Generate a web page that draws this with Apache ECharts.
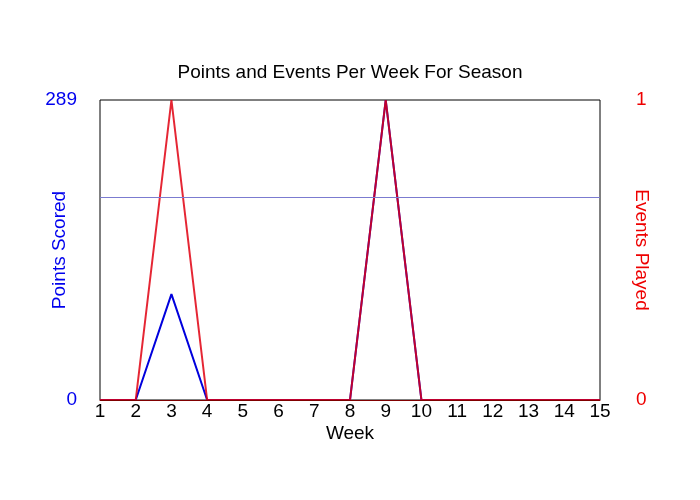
<!DOCTYPE html>
<html>
<head>
<meta charset="utf-8">
<script src="https://cdn.jsdelivr.net/npm/echarts@6/dist/echarts.min.js"></script>
<style>
  html, body { margin: 0; padding: 0; background: #fff; }
  #chart { width: 700px; height: 500px; }
</style>
</head>
<body>
<div id="chart"></div>
<script>
// data
const weeks = ['1', '2', '3', '4', '5', '6', '7', '8', '9', '10', '11', '12', '13', '14', '15']
const pointsScored = [0, 0, 102, 0, 0, 0, 0, 0, 289, 0, 0, 0, 0, 0, 0]
const eventsPlayed = [0, 0, 1, 0, 0, 0, 0, 0, 1, 0, 0, 0, 0, 0, 0]
const pointsMax = 289
const refLineValue = 195

const chart = echarts.init(document.getElementById('chart'))

const font = 'Liberation Sans, Arial, sans-serif'

chart.setOption({
  animation: false,
  title: {
    text: 'Points and Events Per Week For Season',
    left: 'center',
    top: 58,
    textStyle: { fontFamily: font, fontSize: 19, fontWeight: 'normal', color: '#000' }
  },
  grid: {
    left: 100, right: 100, top: 100, bottom: 100,
    show: true, borderColor: '#000', borderWidth: 1, backgroundColor: '#fff'
  },
  xAxis: [{
    type: 'category',
    data: weeks,
    boundaryGap: false,
    name: 'Week',
    nameLocation: 'middle',
    nameGap: 24,
    nameMoveOverlap: false,
    nameTextStyle: { fontFamily: font, fontSize: 19, color: '#000' },
    axisLine: { show: false },
    axisTick: { show: false },
    splitLine: { show: false },
    axisLabel: { fontFamily: font, fontSize: 19, color: '#000', margin: 2, interval: 0 }
  }, {
    type: 'category',
    data: weeks,
    position: 'top',
    boundaryGap: false,
    z: 10,
    axisLine: { show: true, lineStyle: { color: '#800000', width: 1 } },
    axisTick: { show: false },
    axisLabel: { show: false },
    splitLine: { show: false }
  }],
  yAxis: [{
    type: 'value',
    min: 0,
    max: pointsMax,
    interval: pointsMax,
    name: 'Points Scored',
    nameLocation: 'middle',
    nameGap: 31,
    nameMoveOverlap: false,
    nameRotate: 90,
    nameTextStyle: { fontFamily: font, fontSize: 19, color: '#0000ee' },
    axisLine: { show: false },
    axisTick: { show: false },
    splitLine: { show: false },
    axisLabel: { fontFamily: font, fontSize: 19, color: '#0000ee', margin: 23 }
  }, {
    type: 'value',
    min: 0,
    max: 1,
    interval: 1,
    position: 'right',
    name: 'Events Played',
    nameLocation: 'middle',
    nameGap: 32,
    nameMoveOverlap: false,
    nameRotate: -90,
    nameTextStyle: { fontFamily: font, fontSize: 19, color: '#ee0000' },
    axisLine: { show: false },
    axisTick: { show: false },
    splitLine: { show: false },
    axisLabel: { fontFamily: font, fontSize: 19, color: '#ee0000', margin: 36 }
  }],
  series: [{
    name: 'Points Scored',
    type: 'line',
    data: pointsScored,
    yAxisIndex: 0,
    symbol: 'none',
    lineStyle: { color: '#0000dd', width: 2 },
    markLine: {
      silent: true,
      symbol: 'none',
      label: { show: false },
      lineStyle: { color: '#7b7bd0', width: 1, type: 'solid', opacity: 1 },
      data: [{ yAxis: refLineValue }]
    }
  }, {
    name: 'Events Played',
    type: 'line',
    data: eventsPlayed,
    yAxisIndex: 1,
    symbol: 'none',
    lineStyle: { color: '#e00010', width: 2, opacity: 0.85 }
  }]
})
</script>
</body>
</html>
